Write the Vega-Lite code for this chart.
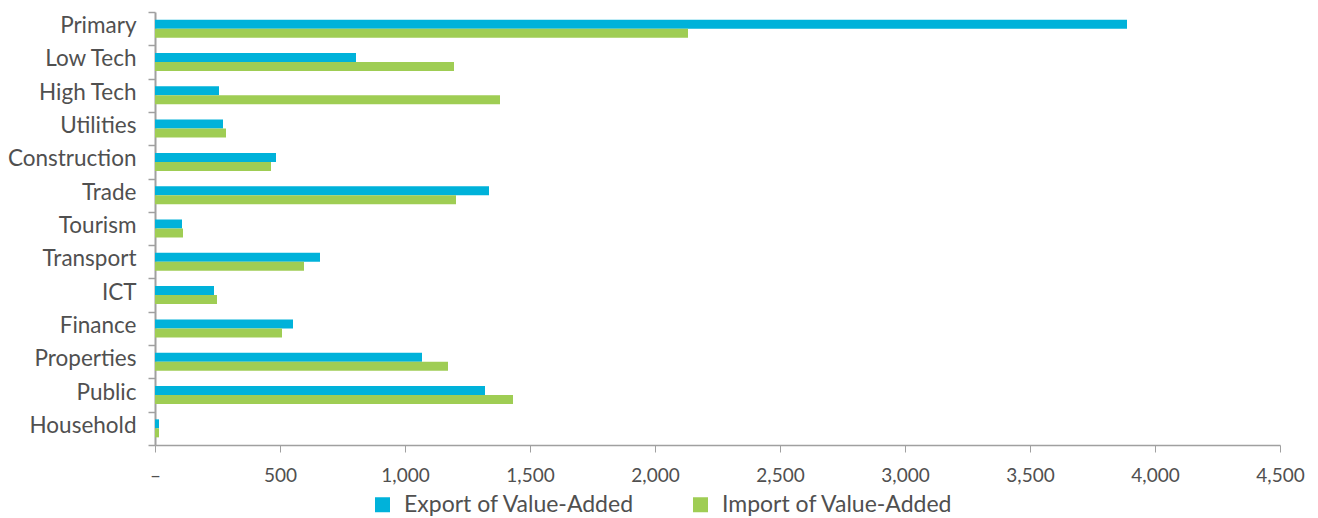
{
  "$schema": "https://vega.github.io/schema/vega-lite/v6.json",
  "width": 1125,
  "height": 433,
  "autosize": {"type": "none"},
  "padding": {"left": 155, "top": 12, "right": 38, "bottom": 73},
  "background": "white",
  "config": {
    "view": {"stroke": null},
    "font": "Lato",
    "axis": {"labelFont": "Lato", "labelColor": "#505050", "domainColor": "#a0a0a0", "tickColor": "#a0a0a0"}
  },
  "data": {
    "values": [
      {"sector": "Primary", "series": "Export of Value-Added", "value": 3888},
      {"sector": "Primary", "series": "Import of Value-Added", "value": 2132},
      {"sector": "Low Tech", "series": "Export of Value-Added", "value": 804},
      {"sector": "Low Tech", "series": "Import of Value-Added", "value": 1196},
      {"sector": "High Tech", "series": "Export of Value-Added", "value": 256},
      {"sector": "High Tech", "series": "Import of Value-Added", "value": 1380},
      {"sector": "Utilities", "series": "Export of Value-Added", "value": 272},
      {"sector": "Utilities", "series": "Import of Value-Added", "value": 284},
      {"sector": "Construction", "series": "Export of Value-Added", "value": 484},
      {"sector": "Construction", "series": "Import of Value-Added", "value": 464},
      {"sector": "Trade", "series": "Export of Value-Added", "value": 1336},
      {"sector": "Trade", "series": "Import of Value-Added", "value": 1204},
      {"sector": "Tourism", "series": "Export of Value-Added", "value": 108},
      {"sector": "Tourism", "series": "Import of Value-Added", "value": 112},
      {"sector": "Transport", "series": "Export of Value-Added", "value": 660},
      {"sector": "Transport", "series": "Import of Value-Added", "value": 596},
      {"sector": "ICT", "series": "Export of Value-Added", "value": 236},
      {"sector": "ICT", "series": "Import of Value-Added", "value": 248},
      {"sector": "Finance", "series": "Export of Value-Added", "value": 552},
      {"sector": "Finance", "series": "Import of Value-Added", "value": 508},
      {"sector": "Properties", "series": "Export of Value-Added", "value": 1068},
      {"sector": "Properties", "series": "Import of Value-Added", "value": 1172},
      {"sector": "Public", "series": "Export of Value-Added", "value": 1320},
      {"sector": "Public", "series": "Import of Value-Added", "value": 1432},
      {"sector": "Household", "series": "Export of Value-Added", "value": 16},
      {"sector": "Household", "series": "Import of Value-Added", "value": 16}
    ]
  },
  "mark": {"type": "bar"},
  "encoding": {
    "y": {
      "field": "sector",
      "type": "nominal",
      "sort": null,
      "scale": {"paddingInner": 0, "paddingOuter": 0},
      "axis": {
        "title": null,
        "tickBand": "extent",
        "labelFontSize": 22.5,
        "labelPadding": 12,
        "labelOffset": -3,
        "tickSize": 7,
        "domainWidth": 2,
        "tickWidth": 1.5
      }
    },
    "yOffset": {
      "field": "series",
      "type": "nominal",
      "sort": ["Export of Value-Added", "Import of Value-Added"],
      "scale": {"paddingInner": 0, "paddingOuter": 0.85}
    },
    "x": {
      "field": "value",
      "type": "quantitative",
      "scale": {"domain": [0, 4500], "nice": false},
      "axis": {
        "title": null,
        "values": [0, 500, 1000, 1500, 2000, 2500, 3000, 3500, 4000, 4500],
        "labelExpr": "datum.value == 0 ? '–' : format(datum.value, ',')",
        "grid": false,
        "labelFontSize": 19,
        "labelPadding": 14,
        "tickSize": 7,
        "domainWidth": 1.5,
        "labelFlush": false
      }
    },
    "color": {
      "field": "series",
      "type": "nominal",
      "scale": {"domain": ["Export of Value-Added", "Import of Value-Added"], "range": ["#00b2da", "#9fcd54"]},
      "legend": {
        "title": null,
        "orient": "none",
        "direction": "horizontal",
        "legendX": 216,
        "legendY": 481,
        "symbolType": "square",
        "symbolSize": 225,
        "symbolStrokeWidth": 0,
        "labelFontSize": 23,
        "labelColor": "#505050",
        "labelFont": "Lato",
        "labelLimit": 0,
        "columnPadding": 54,
        "labelOffset": 10
      }
    }
  }
}
